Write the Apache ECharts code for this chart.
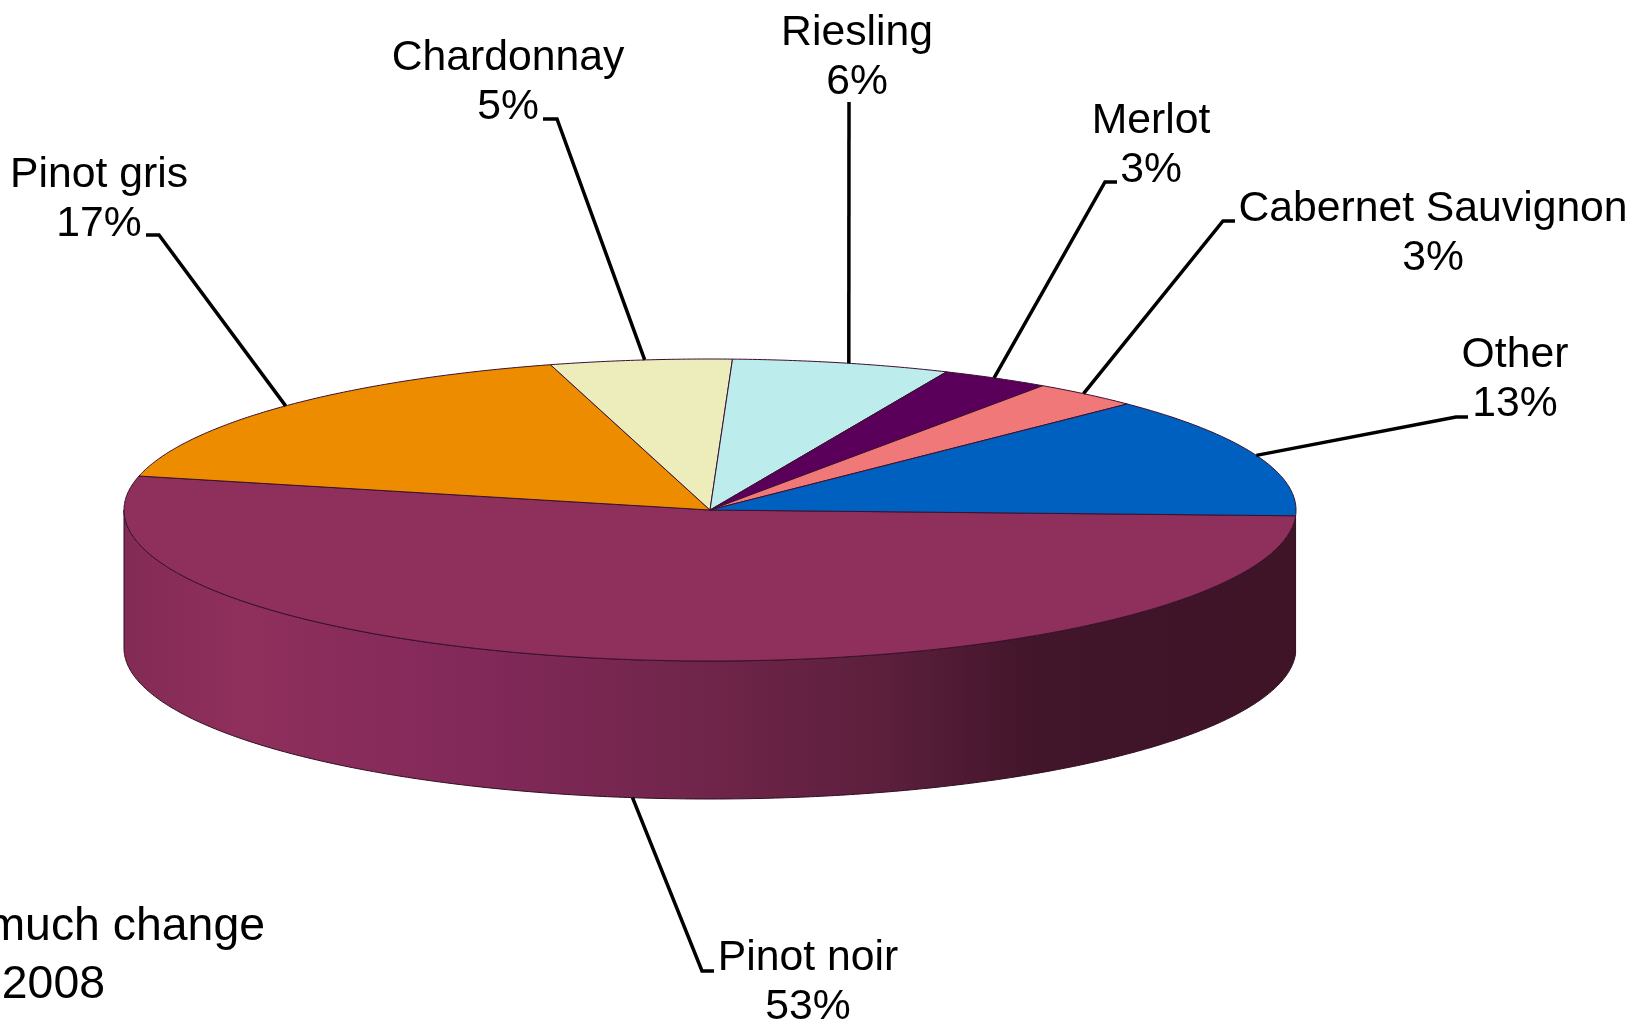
<!DOCTYPE html>
<html>
<head>
<meta charset="utf-8">
<title>Wine varieties</title>
<style>
  html, body { margin: 0; padding: 0; background: #fff; overflow: hidden; }
  #main { width: 1633px; height: 1021px; }
</style>
<script src="https://cdn.jsdelivr.net/npm/echarts@6/dist/echarts.min.js"></script>
</head>
<body>
<div id="main"></div>
<script>
// data, in drawing order (clockwise from the right edge)
var names = ['Pinot noir', 'Pinot gris', 'Chardonnay', 'Riesling', 'Merlot', 'Cabernet Sauvignon', 'Other'];
var shares = [53, 17, 5, 6, 3, 3, 13];
var noteLines = ['much change', '2008'];

// styles and layout
var colors = ['#8f2f5c', '#ee8c00', '#ededbb', '#bdecec', '#5a005a', '#f07878', '#0060bf'];
// label centre, then leader elbow and leader end next to the label
var labelPos = [[808, 983], [99, 200], [508, 83], [857, 58], [1151, 146], [1433, 234], [1515, 380]];
var elbows = [[702, 971], [159, 235], [557, 119], [849, 102], [1105, 182], [1223, 221], [1456, 417]];
var leaderEnds = [[714, 971], [146, 235], [543, 119], [849, 102], [1117, 182], [1235, 221], [1468, 417]];
// small shift of each leader's foot along the rim, in degrees
var rimNudge = [0, 0, 0.4, 0.7, -0.2, -0.4, 0];

var cx = 710, cy = 510, rx = 586, ry = 151, depth = 138;
var startDeg = 2.2;
var font = '"Liberation Sans", Arial, sans-serif';

var total = shares.reduce(function (a, b) { return a + b; }, 0);

function edge(deg, drop) {
  var t = deg * Math.PI / 180;
  return [cx + rx * Math.cos(t), cy + ry * Math.sin(t) + (drop || 0)];
}

function arc(from, to, drop) {
  var pts = [];
  var n = Math.max(2, Math.ceil(Math.abs(to - from) * 2));
  for (var i = 0; i <= n; i++) {
    pts.push(edge(from + (to - from) * i / n, drop));
  }
  return pts;
}

// last argument: coordinates are page pixels, not a fraction of the shape
var wallFill = new echarts.graphic.LinearGradient(cx - rx, 0, cx + rx, 0, [
  { offset: 0, color: '#832b55' },
  { offset: 0.1, color: '#8f2f5c' },
  { offset: 0.3, color: '#82295a' },
  { offset: 0.5, color: '#6f2549' },
  { offset: 0.65, color: '#5c1f3c' },
  { offset: 0.78, color: '#41152a' },
  { offset: 1, color: '#401427' }
], true);

function renderSlice(params, api) {
  var i = params.dataIndex;
  var before = 0;
  for (var k = 0; k < i; k++) before += shares[k];
  var a0 = startDeg + before / total * 360;
  var a1 = a0 + api.value(0) / total * 360;
  var mid = (a0 + a1) / 2;
  var children = [];

  // side wall, only where the slice faces the viewer
  if (a0 < 180) {
    var wallEnd = Math.min(a1, 180);
    children.push({
      type: 'polygon',
      shape: { points: arc(a0, wallEnd, 0).concat(arc(wallEnd, a0, depth)) },
      style: { fill: wallFill, stroke: '#2e0e1f', lineWidth: 1 }
    });
  }

  children.push({
    type: 'polygon',
    shape: { points: [[cx, cy]].concat(arc(a0, a1, 0)) },
    style: { fill: colors[i], stroke: '#3a1030', lineWidth: 1 }
  });

  // the leader stops on the rim, or on the foot of the wall for a front slice
  var front = mid > 0 && mid < 180;
  children.push({
    type: 'polyline',
    shape: { points: [edge(mid + rimNudge[i], front ? depth : 0), elbows[i], leaderEnds[i]] },
    style: { fill: null, stroke: '#000', lineWidth: 3.5 }
  });

  children.push({
    type: 'text',
    x: labelPos[i][0],
    y: labelPos[i][1],
    style: {
      text: names[i] + '\n' + api.value(0) + '%',
      font: '42.7px ' + font,
      lineHeight: 49,
      fill: '#000',
      align: 'center',
      verticalAlign: 'middle'
    }
  });

  return { type: 'group', children: children };
}

var chart = echarts.init(document.getElementById('main'), null, { renderer: 'canvas' });

var option = {
  animation: false,
  backgroundColor: '#fff',
  series: [{
    type: 'custom',
    coordinateSystem: 'none',
    silent: true,
    clip: false,
    renderItem: renderSlice,
    data: shares.map(function (v, i) { return { name: names[i], value: [v] }; })
  }],
  graphic: [
    { type: 'text', x: 265, y: 927, silent: true,
      style: { text: noteLines[0], font: '46.4px ' + font, fill: '#000', align: 'right', verticalAlign: 'middle' } },
    { type: 'text', x: 105, y: 985, silent: true,
      style: { text: noteLines[1], font: '46.4px ' + font, fill: '#000', align: 'right', verticalAlign: 'middle' } }
  ]
};

chart.setOption(option);
</script>
</body>
</html>
